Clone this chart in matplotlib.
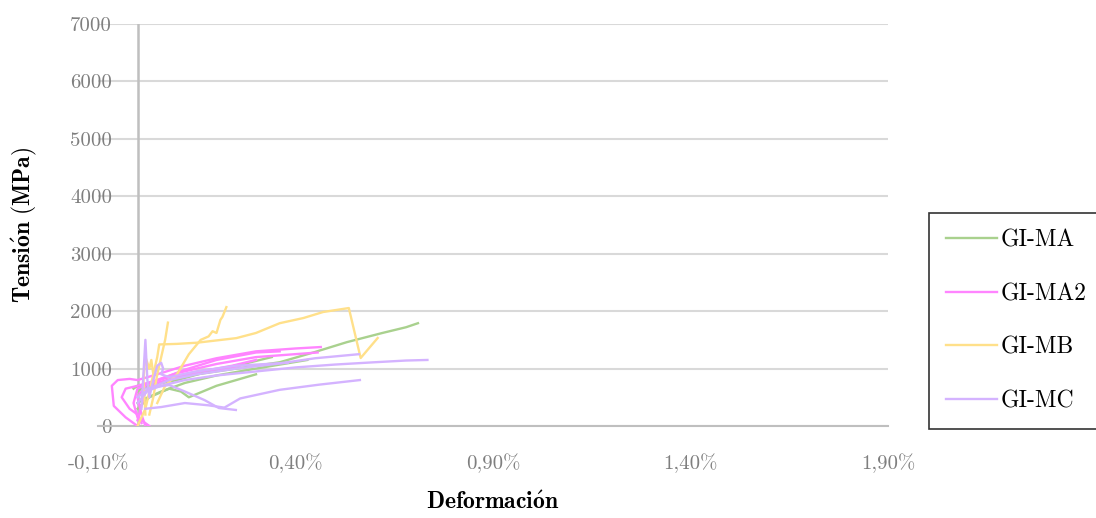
import matplotlib
matplotlib.use("Agg")
import matplotlib.pyplot as plt

# curves per specimen group: strain (%) and stress (MPa)
ma_x = [
    [0.0, 0.01, 0.03, 0.08, 0.15, 0.25, 0.36, 0.45, 0.53, 0.62, 0.68, 0.71],
    [0.0, 0.02, 0.06, 0.12, 0.2, 0.3, 0.43],
    [-0.01, 0.0, 0.04, 0.1, 0.18, 0.28, 0.34],
    [0.0, 0.03, 0.08, 0.11, 0.13, 0.2, 0.3],
]
ma_y = [
    [600, 650, 700, 800, 900, 1000, 1110, 1290, 1460, 1620, 1720, 1790],
    [400, 480, 600, 750, 880, 1000, 1150],
    [650, 700, 720, 800, 950, 1100, 1200],
    [300, 500, 650, 600, 500, 700, 900],
]

ma2_x = [
    [0.0, -0.03, -0.06, -0.065, -0.05, -0.02, 0.0, 0.05, 0.12, 0.2, 0.3, 0.4, 0.464],
    [0.01, 0.0, -0.02, -0.04, -0.03, 0.0, 0.04, 0.1, 0.2, 0.3, 0.456],
    [0.02, 0.01, 0.0, 0.02, 0.06, 0.12, 0.2, 0.3, 0.36],
    [0.0, 0.02, 0.05, 0.1, 0.16, 0.24, 0.3],
    [0.03, 0.0, -0.01, 0.0, 0.03, 0.08, 0.15, 0.22, 0.26],
]
ma2_y = [
    [0, 150, 350, 700, 800, 820, 800, 900, 1050, 1180, 1300, 1350, 1375],
    [50, 200, 300, 500, 650, 700, 780, 920, 1080, 1200, 1280],
    [0, 200, 500, 700, 820, 980, 1150, 1280, 1300],
    [100, 600, 750, 850, 950, 1050, 1150],
    [0, 150, 400, 650, 750, 850, 950, 1000, 1050],
]

mb_x = [
    [0.0, 0.02, 0.04, 0.05, 0.055, 0.1, 0.15, 0.25, 0.3, 0.36, 0.42, 0.47, 0.535, 0.565, 0.608],
    [0.05, 0.07, 0.1, 0.13, 0.16, 0.18, 0.19, 0.2, 0.21, 0.215, 0.225],
    [0.03, 0.04, 0.05, 0.06, 0.07, 0.077],
    [0.02, 0.015, 0.02, 0.03, 0.035, 0.04],
]
mb_y = [
    [0, 300, 900, 1200, 1420, 1430, 1450, 1530, 1620, 1790, 1880, 1985, 2054, 1184, 1532],
    [400, 700, 900, 1250, 1500, 1560, 1650, 1620, 1850, 1900, 2070],
    [200, 500, 900, 1200, 1500, 1800],
    [200, 800, 1200, 1000, 1150, 900],
]

mc_x = [
    [0.0, 0.02, 0.06, 0.12, 0.2, 0.3, 0.4, 0.5, 0.6, 0.68, 0.734],
    [0.02, 0.08, 0.12, 0.17, 0.206, 0.249],
    [0.02, 0.06, 0.12, 0.18, 0.22, 0.26, 0.36, 0.46, 0.563],
    [0.0, 0.03, 0.08, 0.15, 0.25, 0.35, 0.45, 0.56],
    [0.01, 0.02, 0.025, 0.03, 0.04, 0.05, 0.06, 0.065, 0.06, 0.08, 0.15, 0.25, 0.38],
]
mc_y = [
    [500, 600, 700, 800, 880, 950, 1020, 1070, 1110, 1140, 1150],
    [650, 714, 600, 450, 313, 279],
    [300, 330, 400, 360, 320, 480, 630, 720, 800],
    [400, 650, 800, 900, 1000, 1080, 1180, 1250],
    [300, 1500, 800, 500, 800, 1050, 1100, 1000, 900, 850, 950, 1050, 1100],
]

groups = ["GI-MA", "GI-MA2", "GI-MB", "GI-MC"]
colors = ["#a9d18e", "#ff85ff", "#ffe08a", "#d4b3ff"]
x_ticks = [-0.10, 0.40, 0.90, 1.40, 1.90]
x_labels = ["-0,10%", "0,40%", "0,90%", "1,40%", "1,90%"]
y_ticks = [0, 1000, 2000, 3000, 4000, 5000, 6000, 7000]

plt.rcParams['font.family'] = ['cmr10', 'DejaVu Serif']
plt.rcParams['mathtext.fontset'] = 'cm'
plt.rcParams['axes.unicode_minus'] = False

fig = plt.figure(figsize=(10.96, 5.18), dpi=100)
ax = fig.add_axes([98 / 1096, 92 / 518, 790 / 1096, 402 / 518])

for name, col, xs, ys in zip(groups, colors, [ma_x, ma2_x, mb_x, mc_x], [ma_y, ma2_y, mb_y, mc_y]):
    for i, (x, y) in enumerate(zip(xs, ys)):
        ax.plot(x, y, color=col, lw=1.7, label=name if i == 0 else None, zorder=3)

ax.set_xlim(-0.10, 1.90)
ax.set_ylim(0, 7000)
ax.set_xticks(x_ticks)
ax.set_xticklabels(x_labels)
ax.set_yticks(y_ticks)
ax.yaxis.grid(True, color="#d9d9d9", lw=1.5)
ax.set_axisbelow(True)
ax.axvline(0, color="#bfbfbf", lw=1.8, zorder=2)
for s in ["top", "right", "left"]:
    ax.spines[s].set_visible(False)
ax.spines["bottom"].set_color("#bfbfbf")
ax.spines["bottom"].set_linewidth(1.5)
ax.tick_params(axis="both", length=0, labelsize=15, labelcolor="#7f7f7f")
ax.tick_params(axis="y", pad=-10)
ax.tick_params(axis="x", pad=20)

ax.set_xlabel(r"$\mathbf{Deformaci\acute{o}n}$", fontsize=17, labelpad=13)
ax.set_ylabel(r"$\mathbf{Tensi\acute{o}n\ (MPa)}$", fontsize=17, labelpad=22)

leg = fig.legend(loc="upper left", bbox_to_anchor=(929 / 1096, 1 - 213 / 518),
                 fontsize=17, frameon=True, fancybox=False, handlelength=2.2,
                 handletextpad=0.12, labelspacing=1.33, borderpad=0.7, borderaxespad=0)
leg.get_frame().set_edgecolor("black")
leg.get_frame().set_linewidth(1.2)

plt.savefig("out.png", dpi=100)
